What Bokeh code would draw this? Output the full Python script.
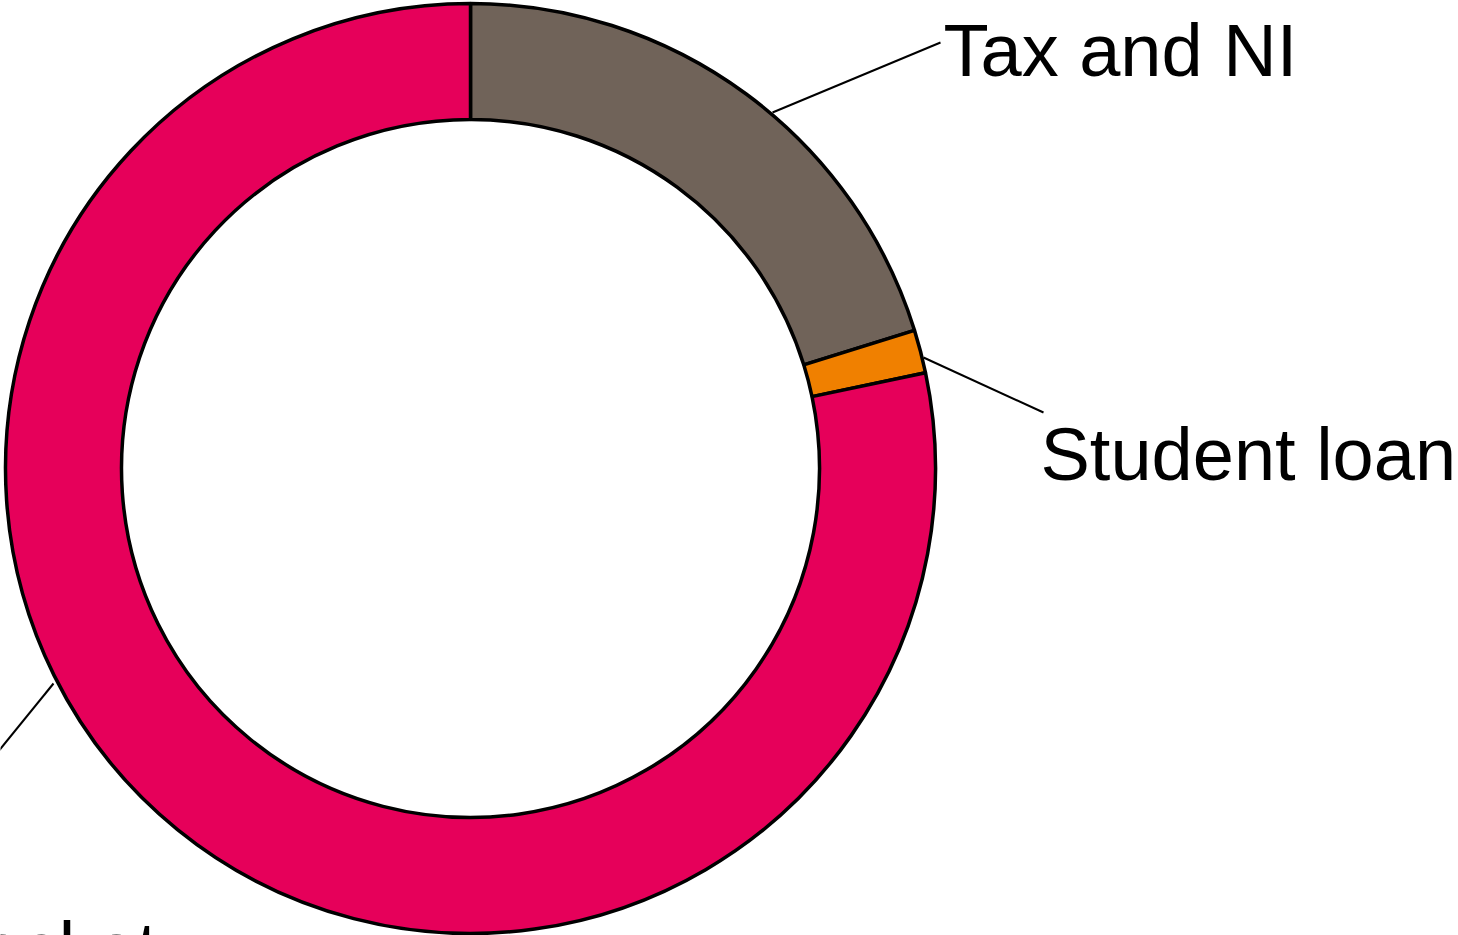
import numpy as np
from bokeh.plotting import figure
from bokeh.models import Range1d
from bokeh.core.properties import value
from bokeh.embed import file_html
from bokeh.resources import INLINE

# ---- data ----
categories = ["Tax and NI", "Student loan", "In your pocket"]
shares = [20.2, 1.5, 78.3]
colors = ["#706359", "#F08000", "#E6005A"]

W, H = 1458, 935
cx, cy = 470, H - 468
r_out, r_in = 465, 349

p = figure(width=W, height=H, output_backend="svg", toolbar_location=None,
           x_range=Range1d(0, W), y_range=Range1d(0, H), min_border=0)
p.axis.visible = False
p.grid.visible = False
p.outline_line_color = None
p.background_fill_color = "white"
p.border_fill_color = "white"

frac = np.array(shares) / np.sum(shares)
cum = np.concatenate([[0], np.cumsum(frac)])
start = np.pi / 2 - 2 * np.pi * cum[:-1]
end = np.pi / 2 - 2 * np.pi * cum[1:]

p.annular_wedge(x=cx, y=cy, inner_radius=r_in, outer_radius=r_out,
                start_angle=start, end_angle=end, direction="clock",
                fill_color=colors, line_color="black", line_width=3.5)

# leader lines (screen coords -> data)
lx0 = [772, 923, 53]
ly0 = [112, 357, 683]
lx1 = [940, 1043, -20]
ly1 = [42, 412, 773]
for a, b, c, d in zip(lx0, ly0, lx1, ly1):
    p.line([a, c], [H - b, H - d], line_color="black", line_width=2)

tx = [943, 1040, 157]
ty = [50, 454, 930]
tyoff = [0, 0, 18]
ta = ["left", "left", "right"]
for lab, x, y, al, yo in zip(categories, tx, ty, ta, tyoff):
    p.text(x=[x], y=[H - y], text=[lab], text_font=value("Liberation Sans"),
           text_font_size="74px", text_align=al, text_baseline="alphabetic",
           y_offset=yo, text_color="black")

open("out.html", "w").write(file_html(p, INLINE))
